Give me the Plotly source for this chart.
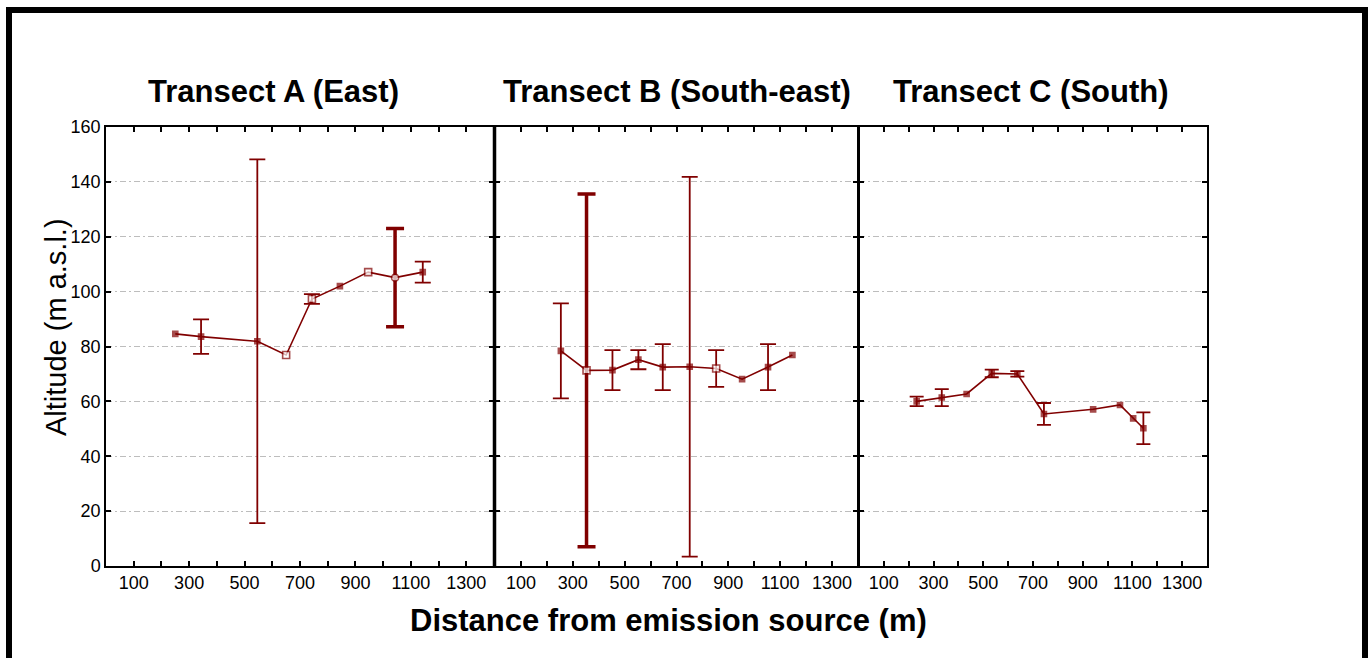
import plotly.graph_objects as go

# ---- data -------------------------------------------------------------
titles = ["Transect A (East)", "Transect B (South-east)", "Transect C (South)"]

# Transect A
a_dist = [250, 343, 546, 650, 743, 844, 946, 1043, 1143]
a_alt = [84.6, 83.6, 81.9, 76.9, 97.3, 102.0, 107.1, 105.1, 107.1]
a_err = [0.0, 6.3, 66.3, 0.0, 1.8, 0.0, 0.0, 17.9, 3.8]

# Transect B
b_dist = [254, 353, 453, 553, 647, 751, 853, 953, 1053, 1147]
b_alt = [78.4, 71.3, 71.4, 75.2, 72.5, 72.6, 72.0, 68.1, 72.5, 76.9]
b_err = [17.3, 64.3, 7.3, 3.5, 8.4, 69.2, 6.7, 0.0, 8.4, 0.0]

# Transect C
c_dist = [232, 333, 433, 534, 637, 744, 942, 1050, 1103, 1144]
c_alt = [60.0, 61.4, 62.7, 70.2, 70.0, 55.4, 57.1, 58.7, 53.8, 50.2]
c_err = [1.7, 3.1, 0.0, 1.4, 1.0, 4.0, 0.0, 0.0, 0.0, 5.8]

x_tick_values = [100, 300, 500, 700, 900, 1100, 1300]
y_tick_values = [0, 20, 40, 60, 80, 100, 120, 140, 160]

# ---- styling ----------------------------------------------------------
W, H = 1371, 658
RED = "#800000"
GRID = "#bdbdbd"
TICKFONT = "Liberation Sans, Arial, sans-serif"
SANS = "Liberation Sans, Arial, sans-serif"

# point styles: "f" filled square, "s" open square, "c" open circle
a_style = ["f", "f", "f", "s", "s", "f", "s", "c", "f"]
b_style = ["f", "s", "f", "f", "f", "f", "s", "f", "f", "f"]
c_style = ["f"] * len(c_dist)
# indices whose error bars are drawn heavier
a_thick = [7]
b_thick = [1]
c_thick = []

# panel pixel extents (left, right) and vertical extent
panels_px = [(106, 494), (495, 858), (859, 1207)]
top_px, bottom_px = 127, 566


def px_x(p):
    return p / W


def px_y(p):
    return 1 - p / H


fig = go.Figure()

datasets = [
    (a_dist, a_alt, a_err, a_style, a_thick, 8),
    (b_dist, b_alt, b_err, b_style, b_thick, 8),
    (c_dist, c_alt, c_err, c_style, c_thick, 7),
]

for i, (xs, ys, es, st, thick, capw) in enumerate(datasets):
    xa = "x" if i == 0 else f"x{i + 1}"
    ya = "y" if i == 0 else f"y{i + 1}"
    symbols = ["circle" if s == "c" else "square" for s in st]
    fills = [RED if s == "f" else "white" for s in st]
    sizes = [5 if s == "f" else 7 for s in st]

    # regular error bars
    tx = [x for j, x in enumerate(xs) if j not in thick and es[j] > 0]
    ty = [y for j, y in enumerate(ys) if j not in thick and es[j] > 0]
    te = [e for j, e in enumerate(es) if j not in thick and e > 0]
    fig.add_trace(go.Scatter(
        x=tx, y=ty, mode="markers", xaxis=xa, yaxis=ya,
        marker=dict(size=1, color="rgba(0,0,0,0)"),
        error_y=dict(type="data", array=te, visible=True, color=RED,
                     thickness=1.8, width=capw),
        showlegend=False, hoverinfo="skip"))

    # heavy error bars
    if thick:
        fig.add_trace(go.Scatter(
            x=[xs[j] for j in thick], y=[ys[j] for j in thick],
            mode="markers", xaxis=xa, yaxis=ya,
            marker=dict(size=1, color="rgba(0,0,0,0)"),
            error_y=dict(type="data", array=[es[j] for j in thick],
                         visible=True, color=RED, thickness=3.5,
                         width=capw + 1),
            showlegend=False, hoverinfo="skip"))

    # connecting line with point markers
    fig.add_trace(go.Scatter(
        x=xs, y=ys, mode="lines+markers", xaxis=xa, yaxis=ya,
        line=dict(color=RED, width=1.6),
        marker=dict(symbol=symbols, size=sizes, color=fills,
                    line=dict(color=RED, width=1.6)),
        showlegend=False))

# ---- axes -------------------------------------------------------------
all_x_ticks = list(range(0, 1401, 100))
x_tick_text = [str(v) if v in x_tick_values else "" for v in all_x_ticks]

layout = dict(
    width=W, height=H,
    margin=dict(l=0, r=0, t=0, b=0, pad=0, autoexpand=False),
    paper_bgcolor="white", plot_bgcolor="white",
    showlegend=False,
)

for i, (l, r) in enumerate(panels_px):
    xk = "xaxis" if i == 0 else f"xaxis{i + 1}"
    yk = "yaxis" if i == 0 else f"yaxis{i + 1}"
    ya = "y" if i == 0 else f"y{i + 1}"
    xa = "x" if i == 0 else f"x{i + 1}"
    layout[xk] = dict(
        domain=[px_x(l), px_x(r)], anchor=ya, range=[0, 1400],
        tickvals=all_x_ticks, ticktext=x_tick_text, automargin=False,
        ticks="inside", ticklen=5, tickwidth=1.5, tickcolor="black",
        showline=True, linecolor="black", linewidth=1.5, mirror="ticks",
        showgrid=False, zeroline=False,
        tickfont=dict(family=TICKFONT, size=18, color="black"),
    )
    layout[yk] = dict(
        domain=[px_y(bottom_px), px_y(top_px)], anchor=xa, range=[0, 160],
        tickvals=y_tick_values, automargin=False,
        ticks="inside", ticklen=5, tickwidth=1.5, tickcolor="black",
        showline=True, linecolor="black", linewidth=1.5, mirror="ticks",
        showgrid=True, gridcolor=GRID, gridwidth=1,
        griddash="6px,3px,2px,3px", zeroline=False,
        showticklabels=(i == 0),
        tickfont=dict(family=TICKFONT, size=18, color="black"),
    )

fig.update_layout(**layout)

# ---- panel titles and axis titles -------------------------------------
title_centers = [273, 677, 1031]
annotations = []
for t, cx in zip(titles, title_centers):
    annotations.append(dict(
        text=f"<b>{t}</b>", x=px_x(cx), y=px_y(92), xref="paper", yref="paper",
        showarrow=False, xanchor="center", yanchor="middle",
        font=dict(family=SANS, size=31, color="black")))

annotations.append(dict(
    text="<b>Distance from emission source (m)</b>", x=px_x(668), y=px_y(620),
    xref="paper", yref="paper", showarrow=False, xanchor="center",
    yanchor="middle", font=dict(family=SANS, size=31, color="black")))

annotations.append(dict(
    text="Altitude (m a.s.l.)", x=px_x(56), y=px_y(327), textangle=-90,
    xref="paper", yref="paper", showarrow=False, xanchor="center",
    yanchor="middle", font=dict(family=SANS, size=29, color="black")))

fig.update_layout(annotations=annotations)

# ---- frame lines ------------------------------------------------------
shapes = [
    # outer page border
    dict(type="rect", xref="paper", yref="paper",
         x0=px_x(9), x1=px_x(1365), y0=px_y(700), y1=px_y(10),
         line=dict(color="black", width=6), fillcolor="rgba(0,0,0,0)"),
    # heavier separators between the panels
    dict(type="line", xref="paper", yref="paper",
         x0=px_x(494.5), x1=px_x(494.5), y0=px_y(bottom_px), y1=px_y(top_px),
         line=dict(color="black", width=3.5)),
    dict(type="line", xref="paper", yref="paper",
         x0=px_x(858.5), x1=px_x(858.5), y0=px_y(bottom_px), y1=px_y(top_px),
         line=dict(color="black", width=2.5)),
]
fig.update_layout(shapes=shapes)

fig.write_html("out.html")
